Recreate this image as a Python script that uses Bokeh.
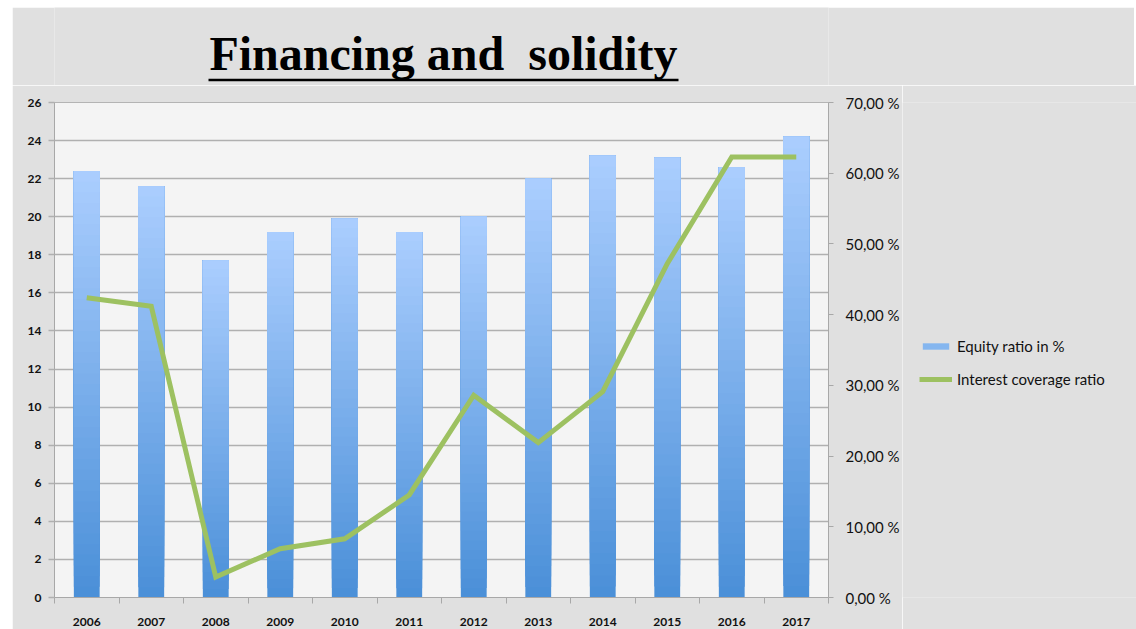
from bokeh.plotting import figure
from bokeh.models import (Range1d, LinearAxis, FixedTicker, Legend, LegendItem,
                          ColumnDataSource, Spacer)
from bokeh.layouts import column, row
from bokeh.core.properties import value
from bokeh.embed import file_html
from bokeh.resources import INLINE

# ---- data ----
years = ["2006", "2007", "2008", "2009", "2010", "2011",
         "2012", "2013", "2014", "2015", "2016", "2017"]
equity_ratio = [22.4, 21.6, 17.7, 19.2, 19.9, 19.2, 20.0, 22.0, 23.2, 23.1, 22.6, 24.2]
interest_coverage = [42.4, 41.2, 2.9, 6.9, 8.3, 14.5, 28.6, 21.9, 29.1, 47.2, 62.3, 62.3]
left_ticks = list(range(0, 27, 2))
right_ticks = [0, 10, 20, 30, 40, 50, 60, 70]
right_tick_labels = ["0,00 %", "10,00 %", "20,00 %", "30,00 %", "40,00 %",
                     "50,00 %", "60,00 %", "70,00 %"]
series_names = ["Equity ratio in %", "Interest coverage ratio"]
title_text = "Financing and\u00a0 solidity"

FONT = "Lato"
TXT = "#111111"
BG = "#E0E0E0"
LEFT, FW, RIGHT = 42, 774, 306
BAR_COLOR_TOP = (0xAB, 0xCE, 0xFE)
BAR_COLOR_BOT = (0x4A, 0x8F, 0xD8)
LINE_COLOR = "#9DC161"

# ---- title strip (frame aligned with chart frame; coordinates = page pixels) ----
t = figure(frame_width=FW, frame_height=78, x_range=Range1d(54, 828), y_range=Range1d(85, 7),
           output_backend="svg", toolbar_location=None,
           background_fill_color=BG, border_fill_color=BG, outline_line_color=None,
           min_border_left=LEFT, min_border_right=RIGHT, min_border_top=0, min_border_bottom=0)
t.axis.visible = False
t.grid.visible = False
t.text(x=[443], y=[53], text=[title_text], text_font=value("Liberation Serif"),
       text_font_size="48px", text_font_style="bold", text_color="#000000",
       text_align="center", text_baseline="alphabetic")
t.segment(x0=[208], y0=[79.5], x1=[678], y1=[79.5], line_color="#000000", line_width=2.5)

# ---- main chart ----
p = figure(frame_width=FW, frame_height=495, x_range=Range1d(0.5, 12.5), y_range=Range1d(0, 26),
           output_backend="svg", toolbar_location=None,
           background_fill_color="#F4F4F4", border_fill_color=BG,
           outline_line_color="#B4B4B4",
           min_border_left=LEFT, min_border_right=0, min_border_top=17, min_border_bottom=32)

# gradient bars: overlapping slices, each from its level up to the bar top
N = 40
xs, bots, tops, cols = [], [], [], []
for k in range(N):
    f = (k + 0.5) / N
    c = tuple(int(round(BAR_COLOR_BOT[j] + (BAR_COLOR_TOP[j] - BAR_COLOR_BOT[j]) * f)) for j in range(3))
    for i, v in enumerate(equity_ratio):
        xs.append(i + 1)
        bots.append(v * k / N)
        tops.append(v)
        cols.append("#%02x%02x%02x" % c)
src = ColumnDataSource(dict(x=xs, bottom=bots, top=tops, color=cols))
p.vbar(x="x", bottom="bottom", top="top", width=0.4, source=src,
       fill_color="color", line_color=None)

p.extra_y_ranges = {"pct": Range1d(0, 70)}
line_src = ColumnDataSource(dict(x=list(range(1, 13)), y=interest_coverage))
p.line(x="x", y="y", source=line_src, y_range_name="pct",
       line_color=LINE_COLOR, line_width=5, line_join="miter")

p.xgrid.visible = False
p.ygrid.ticker = FixedTicker(ticks=left_ticks)
p.ygrid.grid_line_color = "#B0B0B0"
p.ygrid.grid_line_width = 1.5

ya = p.yaxis[0]
ya.ticker = FixedTicker(ticks=left_ticks)
ya.axis_line_color = "#A8A8A8"
ya.major_tick_line_color = "#B0B0B0"
ya.major_tick_line_width = 1.5
ya.major_tick_out = 6
ya.major_tick_in = 0
ya.minor_tick_line_color = None
ya.major_label_standoff = 7
ya.major_label_text_font = FONT
ya.major_label_text_font_size = "12px"
ya.major_label_text_font_style = "bold"
ya.major_label_text_color = TXT

ra = LinearAxis(y_range_name="pct", ticker=FixedTicker(ticks=right_ticks),
                major_label_overrides={t_: l for t_, l in zip(right_ticks, right_tick_labels)})
ra.axis_line_color = "#A8A8A8"
ra.major_tick_line_color = "#A8A8A8"
ra.major_tick_out = 5
ra.major_tick_in = 0
ra.minor_tick_line_color = None
ra.major_label_standoff = 12
ra.major_label_text_font = FONT
ra.major_label_text_font_size = "15px"
ra.major_label_text_color = TXT
p.add_layout(ra, "right")

xa = p.xaxis[0]
xa.ticker = FixedTicker(ticks=list(range(1, 13)),
                        minor_ticks=[i + 0.5 for i in range(0, 13)])
xa.major_label_overrides = {i + 1: y for i, y in enumerate(years)}
xa.axis_line_color = "#A8A8A8"
xa.major_tick_line_color = None
xa.major_tick_out = 0
xa.major_tick_in = 0
xa.minor_tick_line_color = "#A8A8A8"
xa.minor_tick_out = 6
xa.minor_tick_in = 0
xa.major_label_standoff = 14
xa.major_label_text_font = FONT
xa.major_label_text_font_size = "12px"
xa.major_label_text_font_style = "bold"
xa.major_label_text_color = TXT

# ---- legend panel (separate figure; its glyphs reuse the data but lie outside its view) ----
lg = figure(frame_width=237, frame_height=495, x_range=Range1d(-100, -99), y_range=Range1d(-100, -99),
            output_backend="svg", toolbar_location=None,
            background_fill_color=BG, border_fill_color=BG, outline_line_color=None,
            min_border_left=0, min_border_right=0, min_border_top=17, min_border_bottom=32)
lg.axis.visible = False
lg.grid.visible = False
lb = lg.vbar(x="x", bottom="bottom", top="top", width=0.4, source=src,
             fill_color="color", line_color=None)
ll = lg.line(x="x", y="y", source=line_src, line_color=LINE_COLOR, line_width=5)
legend = Legend(items=[LegendItem(label=series_names[0], renderers=[lb], index=24 * 12),
                       LegendItem(label=series_names[1], renderers=[ll])],
                location=(17, 209), orientation="vertical")
legend.background_fill_alpha = 0
legend.border_line_color = None
legend.glyph_width = 33
legend.glyph_height = 8
legend.label_standoff = 5
legend.spacing = 15
legend.padding = 0
legend.margin = 0
legend.label_text_font = FONT
legend.label_text_font_size = "15px"
legend.label_text_color = TXT
lg.add_layout(legend)

layout = row(Spacer(width=12),
             column(Spacer(height=7), t, row(p, lg, spacing=0), spacing=0),
             spacing=0)
open("out.html", "w").write(file_html(layout, INLINE))
